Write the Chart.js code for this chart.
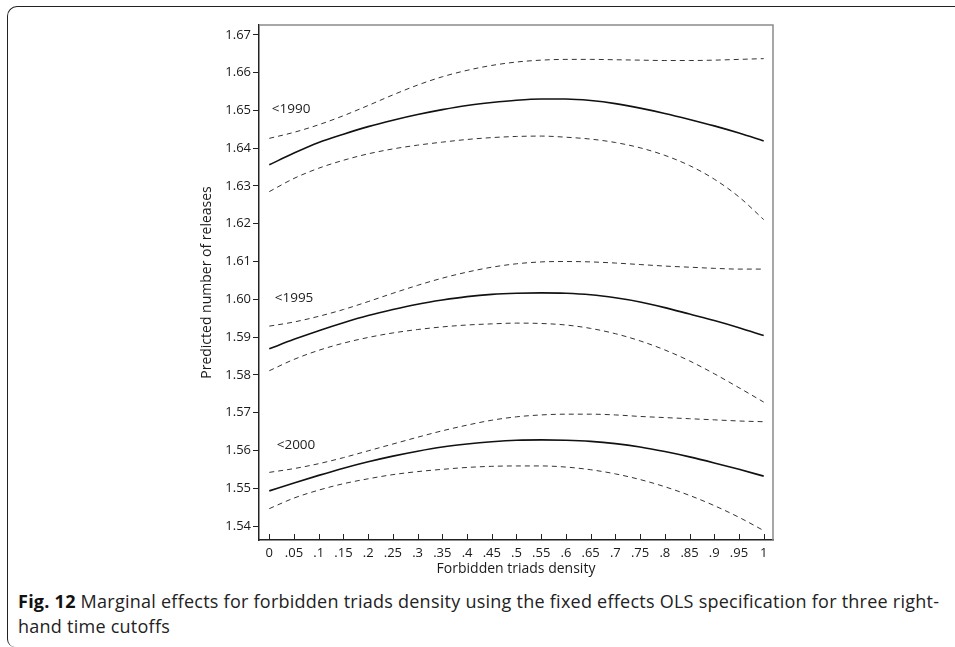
<!DOCTYPE html>
<html>
<head>
<meta charset="utf-8">
<script src="https://cdn.jsdelivr.net/npm/chart.js@4.4.1/dist/chart.umd.min.js"></script>
<style>
    html, body { margin: 0; padding: 0; background: #fff; }
    body { width: 955px; height: 647px; position: relative; overflow: hidden; font-family: "Open Sans", sans-serif; }
    #marco {
        position: absolute; left: 7px; top: 6px; width: 1000px; height: 640px;
        border-left: 1.5px solid #222; border-top: 1.5px solid #222;
        border-top-left-radius: 10px; border-bottom-left-radius: 8px;
    }
    #grafica { position: absolute; left: 0; top: 0; }
    #pie {
        position: absolute; left: 18px; top: 589px; width: 935px;
        font-size: 18px; letter-spacing: 0.25px; line-height: 25px; color: #222;
    }
    #pie b { color: #111; }
</style>
</head>
<body>
<div id="marco"></div>
<canvas id="grafica" width="955" height="581"></canvas>
<div id="pie"><b>Fig. 12</b> Marginal effects for forbidden triads density using the fixed effects OLS specification for three right-<br>hand time cutoffs</div>

<script>
/* =========================================================
    DATOS
========================================================= */

const densidad = [0, 0.05, 0.1, 0.15, 0.2, 0.25, 0.3, 0.35, 0.4, 0.45, 0.5,
                  0.55, 0.6, 0.65, 0.7, 0.75, 0.8, 0.85, 0.9, 0.95, 1];

// <1990
const media1990 = [1.6356, 1.6387, 1.6415, 1.6437, 1.6457, 1.6474, 1.6489, 1.6502, 1.6513, 1.6521, 1.6527,
                   1.6530, 1.6530, 1.6526, 1.6518, 1.6506, 1.6492, 1.6476, 1.6459, 1.6440, 1.6419];
const sup1990   = [1.6426, 1.6442, 1.6462, 1.6486, 1.6513, 1.6541, 1.6567, 1.6589, 1.6606, 1.6619, 1.6628,
                   1.6633, 1.6635, 1.6635, 1.6634, 1.6633, 1.6632, 1.6632, 1.6633, 1.6635, 1.6637];
const inf1990   = [1.6285, 1.6320, 1.6347, 1.6368, 1.6385, 1.6398, 1.6408, 1.6416, 1.6423, 1.6428, 1.6431,
                   1.6432, 1.6429, 1.6424, 1.6415, 1.6401, 1.6381, 1.6354, 1.6318, 1.6271, 1.6211];

// <1995
const media1995 = [1.5869, 1.5894, 1.5917, 1.5938, 1.5957, 1.5973, 1.5987, 1.5998, 1.6007, 1.6013, 1.6016,
                   1.6017, 1.6016, 1.6012, 1.6004, 1.5993, 1.5978, 1.5961, 1.5944, 1.5925, 1.5904];
const sup1995   = [1.5929, 1.5940, 1.5955, 1.5973, 1.5994, 1.6016, 1.6037, 1.6056, 1.6072, 1.6085, 1.6094,
                   1.6099, 1.6100, 1.6099, 1.6096, 1.6092, 1.6088, 1.6085, 1.6082, 1.6080, 1.6080];
const inf1995   = [1.5811, 1.5841, 1.5865, 1.5884, 1.5899, 1.5911, 1.5920, 1.5927, 1.5932, 1.5935, 1.5937,
                   1.5936, 1.5932, 1.5923, 1.5909, 1.5890, 1.5866, 1.5837, 1.5803, 1.5766, 1.5728];

// <2000
const media2000 = [1.5493, 1.5514, 1.5534, 1.5553, 1.5570, 1.5585, 1.5598, 1.5609, 1.5617, 1.5623, 1.5627,
                   1.5628, 1.5627, 1.5624, 1.5618, 1.5609, 1.5597, 1.5583, 1.5567, 1.5550, 1.5532];
const sup2000   = [1.5542, 1.5552, 1.5565, 1.5581, 1.5599, 1.5617, 1.5635, 1.5652, 1.5667, 1.5680, 1.5689,
                   1.5694, 1.5696, 1.5696, 1.5694, 1.5690, 1.5687, 1.5684, 1.5681, 1.5678, 1.5676];
const inf2000   = [1.5446, 1.5474, 1.5495, 1.5512, 1.5525, 1.5536, 1.5544, 1.5550, 1.5555, 1.5558, 1.5559,
                   1.5559, 1.5556, 1.5549, 1.5538, 1.5523, 1.5504, 1.5481, 1.5454, 1.5423, 1.5388];

// Ejes
const ticksX = [0, 0.05, 0.1, 0.15, 0.2, 0.25, 0.3, 0.35, 0.4, 0.45, 0.5,
                0.55, 0.6, 0.65, 0.7, 0.75, 0.8, 0.85, 0.9, 0.95, 1];
const ticksY = [1.54, 1.55, 1.56, 1.57, 1.58, 1.59, 1.60, 1.61, 1.62, 1.63, 1.64, 1.65, 1.66, 1.67];

// Etiquetas de cada corte
const cortes = ["<1990", "<1995", "<2000"];
const corteX = [0.005, 0.011, 0.015];
const corteY = [1.6503, 1.6003, 1.5613];

/* =========================================================
    UTILIDADES
========================================================= */

const puntos = arr => densidad.map((x, i) => ({ x: x, y: arr[i] }));

// ".05" en vez de "0.05"
const etiquetaX = v => {
    if (v === 0) return "0";
    if (v === 1) return "1";
    return (+v.toFixed(2)).toString().replace(/^0/, "");
};

const linea = (arr, punteada) => ({
    data: puntos(arr),
    borderColor: punteada ? "#333" : "#111",
    borderWidth: punteada ? 1 : 1.6,
    borderDash: punteada ? [5, 4] : [],
    pointRadius: 0,
    fill: false,
    cubicInterpolationMode: "monotone"
});

// Marco gris, marcas del eje x hacia dentro y nombres de las series
const detalles = {
    id: "detalles",
    afterDraw(chart) {
        const { ctx, chartArea: a, scales: { x, y } } = chart;
        ctx.save();

        ctx.strokeStyle = "#8a8a8a";
        ctx.lineWidth = 1.5;
        ctx.beginPath();
        ctx.moveTo(a.left, a.top);
        ctx.lineTo(a.right, a.top);
        ctx.lineTo(a.right, a.bottom);
        ctx.stroke();

        ctx.strokeStyle = "#222";
        ctx.lineWidth = 1;
        ticksX.forEach(v => {
            const px = Math.round(x.getPixelForValue(v)) + 0.5;
            ctx.beginPath();
            ctx.moveTo(px, a.bottom);
            ctx.lineTo(px, a.bottom - 6);
            ctx.stroke();
        });

        ctx.fillStyle = "#222";
        ctx.font = '13.5px "Open Sans"';
        ctx.textBaseline = "middle";
        ctx.textAlign = "left";
        cortes.forEach((t, i) => {
            ctx.fillText(t, x.getPixelForValue(corteX[i]), y.getPixelForValue(corteY[i]));
        });

        ctx.restore();
    }
};

/* =========================================================
    GRAFICA
========================================================= */

Chart.defaults.font.family = '"Open Sans", sans-serif';
Chart.defaults.color = "#1a1a1a";

new Chart(document.getElementById("grafica"), {
    type: "line",
    data: {
        datasets: [
            linea(sup1990, true), linea(media1990, false), linea(inf1990, true),
            linea(sup1995, true), linea(media1995, false), linea(inf1995, true),
            linea(sup2000, true), linea(media2000, false), linea(inf2000, true)
        ]
    },
    options: {
        responsive: false,
        animation: false,
        layout: { padding: { left: 195, top: 25, right: 182, bottom: 0 } },
        plugins: {
            legend: { display: false },
            tooltip: { enabled: false }
        },
        scales: {
            x: {
                type: "linear",
                min: -0.0208,
                max: 1.0188,
                afterBuildTicks: s => { s.ticks = ticksX.map(v => ({ value: v })); },
                afterFit: s => { s.height = 41; },
                grid: { drawOnChartArea: false, drawTicks: false },
                border: { color: "#222", width: 1.5 },
                ticks: {
                    autoSkip: false,
                    maxRotation: 0,
                    padding: 5,
                    font: { size: 13 },
                    callback: v => etiquetaX(v)
                },
                title: {
                    display: true,
                    text: "Forbidden triads density",
                    font: { size: 14 },
                    padding: { top: 0, bottom: 4 }
                }
            },
            y: {
                min: 1.5363,
                max: 1.6726,
                afterBuildTicks: s => { s.ticks = ticksY.map(v => ({ value: v })); },
                afterFit: s => { s.width = 64; },
                grid: { drawOnChartArea: false, drawTicks: true, tickLength: 6, color: "#222" },
                border: { color: "#222", width: 1.5 },
                ticks: {
                    padding: 2,
                    font: { size: 13 },
                    callback: v => v.toFixed(2)
                },
                title: {
                    display: true,
                    text: "Predicted number of releases",
                    font: { size: 14 },
                    padding: { top: 4, bottom: 0 }
                }
            }
        }
    },
    plugins: [detalles]
});
</script>
</body>
</html>
